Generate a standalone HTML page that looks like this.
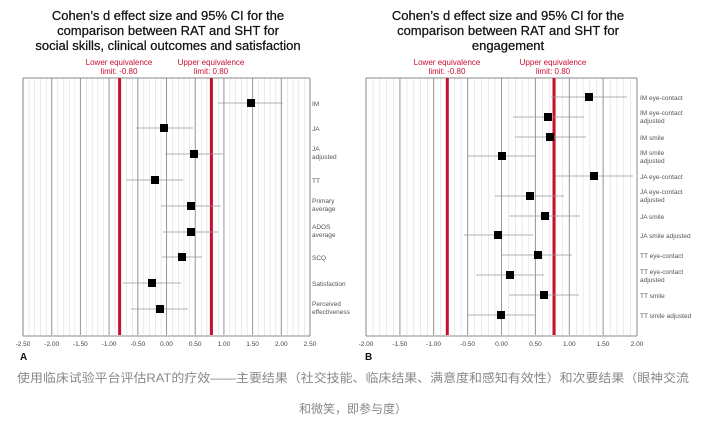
<!DOCTYPE html>
<html><head><meta charset="utf-8"><style>
body{margin:0;background:#fff;width:707px;height:421px;overflow:hidden}
svg{display:block}
.t{font-family:"Liberation Sans","DejaVu Sans",sans-serif}
</style></head><body>
<svg width="707" height="421" viewBox="0 0 707 421">
<defs>
<pattern id="pa" x="23" y="0" width="5.74" height="10" patternUnits="userSpaceOnUse"><line x1="0.25" y1="0" x2="0.25" y2="10" stroke="#d8d8d8" stroke-width="0.6"/></pattern>
<pattern id="pb" x="366" y="0" width="6.775" height="10" patternUnits="userSpaceOnUse"><line x1="0.25" y1="0" x2="0.25" y2="10" stroke="#d8d8d8" stroke-width="0.6"/></pattern>
</defs>
<g class="t" fill="#111" stroke="#111" stroke-width="0.25" font-size="13" text-anchor="middle">
<text x="168" y="20">Cohen’s d effect size and 95% CI for the</text>
<text x="168" y="35">comparison between RAT and SHT for</text>
<text x="168" y="50">social skills, clinical outcomes and satisfaction</text>
<text x="508" y="20">Cohen’s d effect size and 95% CI for the</text>
<text x="508" y="35">comparison between RAT and SHT for</text>
<text x="508" y="50">engagement</text>
</g>
<g class="t" fill="#c8102e" font-size="8" text-anchor="middle">
<text x="119" y="65">Lower equivalence</text><text x="119" y="74">limit: -0.80</text>
<text x="211" y="65">Upper equivalence</text><text x="211" y="74">limit: 0.80</text>
<text x="447" y="65">Lower equivalence</text><text x="447" y="74">limit: -0.80</text>
<text x="553" y="65">Upper equivalence</text><text x="553" y="74">limit: 0.80</text>
</g>
<!-- Panel A -->
<rect x="23" y="78" width="287" height="257" fill="url(#pa)"/>
<g stroke="#999" stroke-width="1">
<line x1="51.7" y1="78" x2="51.7" y2="335"/><line x1="80.4" y1="78" x2="80.4" y2="335"/><line x1="109.1" y1="78" x2="109.1" y2="335"/><line x1="137.8" y1="78" x2="137.8" y2="335"/><line x1="166.5" y1="78" x2="166.5" y2="335"/><line x1="195.2" y1="78" x2="195.2" y2="335"/><line x1="223.9" y1="78" x2="223.9" y2="335"/><line x1="252.6" y1="78" x2="252.6" y2="335"/><line x1="281.3" y1="78" x2="281.3" y2="335"/>
</g>
<g stroke="#888" stroke-width="1"><line x1="23" y1="78" x2="310" y2="78"/><line x1="23" y1="78" x2="23" y2="336"/><line x1="310" y1="78" x2="310" y2="336"/><line x1="23" y1="336" x2="310" y2="336"/></g>
<g stroke="#c8102e" stroke-width="3"><line x1="119.6" y1="78" x2="119.6" y2="335"/><line x1="211.4" y1="78" x2="211.4" y2="335"/></g>
<g stroke="#999" stroke-width="0.8">
<line x1="218" y1="103" x2="283" y2="103"/><line x1="136" y1="128" x2="193" y2="128"/><line x1="165" y1="154" x2="223" y2="154"/><line x1="126" y1="180" x2="183" y2="180"/><line x1="161" y1="206" x2="221" y2="206"/><line x1="163" y1="232" x2="218" y2="232"/><line x1="162" y1="257" x2="202" y2="257"/><line x1="123" y1="283" x2="181" y2="283"/><line x1="131" y1="309" x2="188" y2="309"/>
</g>
<g fill="#000">
<rect x="247" y="99" width="8" height="8"/><rect x="160" y="124" width="8" height="8"/><rect x="190" y="150" width="8" height="8"/><rect x="151" y="176" width="8" height="8"/><rect x="187" y="202" width="8" height="8"/><rect x="187" y="228" width="8" height="8"/><rect x="178" y="253" width="8" height="8"/><rect x="148" y="279" width="8" height="8"/><rect x="156" y="305" width="8" height="8"/>
</g>
<g class="t" fill="#555" font-size="6.5">
<text x="312" y="106">IM</text><text x="312" y="131">JA</text><text x="312" y="151">JA</text><text x="312" y="159">adjusted</text><text x="312" y="183">TT</text><text x="312" y="203">Primary</text><text x="312" y="211">average</text><text x="312" y="229">ADOS</text><text x="312" y="237">average</text><text x="312" y="260">SCQ</text><text x="312" y="286">Satisfaction</text><text x="312" y="306">Perceived</text><text x="312" y="314">effectiveness</text>
</g>
<g class="t" fill="#444" font-size="6.5" text-anchor="middle">
<text x="23" y="346">-2.50</text><text x="51.7" y="346">-2.00</text><text x="80.4" y="346">-1.50</text><text x="109.1" y="346">-1.00</text><text x="137.8" y="346">-0.50</text><text x="166.5" y="346">0.00</text><text x="195.2" y="346">0.50</text><text x="223.9" y="346">1.00</text><text x="252.6" y="346">1.50</text><text x="281.3" y="346">2.00</text><text x="310" y="346">2.50</text>
</g>
<text class="t" x="20" y="360" font-size="10" font-weight="bold" fill="#111">A</text>
<!-- Panel B -->
<rect x="366" y="78" width="271" height="257" fill="url(#pb)"/>
<g stroke="#999" stroke-width="1">
<line x1="399.9" y1="78" x2="399.9" y2="335"/><line x1="433.6" y1="78" x2="433.6" y2="335"/><line x1="467.6" y1="78" x2="467.6" y2="335"/><line x1="501.5" y1="78" x2="501.5" y2="335"/><line x1="535.4" y1="78" x2="535.4" y2="335"/><line x1="569.3" y1="78" x2="569.3" y2="335"/><line x1="603.1" y1="78" x2="603.1" y2="335"/>
</g>
<g stroke="#888" stroke-width="1"><line x1="366" y1="78" x2="637" y2="78"/><line x1="366" y1="78" x2="366" y2="336"/><line x1="637" y1="78" x2="637" y2="336"/><line x1="366" y1="336" x2="637" y2="336"/></g>
<g stroke="#c8102e" stroke-width="3"><line x1="447.3" y1="78" x2="447.3" y2="335"/><line x1="554" y1="78" x2="554" y2="335"/></g>
<g stroke="#999" stroke-width="0.8">
<line x1="551" y1="97" x2="627" y2="97"/><line x1="513" y1="117" x2="584" y2="117"/><line x1="515" y1="137" x2="586" y2="137"/><line x1="468" y1="156" x2="536" y2="156"/><line x1="556" y1="176" x2="633" y2="176"/><line x1="495" y1="196" x2="564" y2="196"/><line x1="509" y1="216" x2="580" y2="216"/><line x1="464" y1="235" x2="533" y2="235"/><line x1="502" y1="255" x2="572" y2="255"/><line x1="476" y1="275" x2="544" y2="275"/><line x1="509" y1="295" x2="579" y2="295"/><line x1="468" y1="315" x2="535" y2="315"/>
</g>
<g fill="#000">
<rect x="585" y="93" width="8" height="8"/><rect x="544" y="113" width="8" height="8"/><rect x="546" y="133" width="8" height="8"/><rect x="498" y="152" width="8" height="8"/><rect x="590" y="172" width="8" height="8"/><rect x="526" y="192" width="8" height="8"/><rect x="541" y="212" width="8" height="8"/><rect x="494" y="231" width="8" height="8"/><rect x="534" y="251" width="8" height="8"/><rect x="506" y="271" width="8" height="8"/><rect x="540" y="291" width="8" height="8"/><rect x="497" y="311" width="8" height="8"/>
</g>
<g class="t" fill="#555" font-size="6.5">
<text x="640" y="100">IM eye-contact</text><text x="640" y="115">IM eye-contact</text><text x="640" y="123">adjusted</text><text x="640" y="140">IM smile</text><text x="640" y="155">IM smile</text><text x="640" y="163">adjusted</text><text x="640" y="179">JA eye-contact</text><text x="640" y="194">JA eye-contact</text><text x="640" y="202">adjusted</text><text x="640" y="219">JA smile</text><text x="640" y="238">JA smile adjusted</text><text x="640" y="258">TT eye-contact</text><text x="640" y="274">TT eye-contact</text><text x="640" y="282">adjusted</text><text x="640" y="298">TT smile</text><text x="640" y="318">TT smile adjusted</text>
</g>
<g class="t" fill="#444" font-size="6.5" text-anchor="middle">
<text x="366" y="346">-2.00</text><text x="399.9" y="346">-1.50</text><text x="433.6" y="346">-1.00</text><text x="467.6" y="346">-0.50</text><text x="501.5" y="346">0.00</text><text x="535.4" y="346">0.50</text><text x="569.3" y="346">1.00</text><text x="603.1" y="346">1.50</text><text x="637" y="346">2.00</text>
</g>
<text class="t" x="365" y="360" font-size="10" font-weight="bold" fill="#111">B</text>
<g font-family="'Liberation Sans','Noto Sans CJK SC',sans-serif" fill="#888" font-size="12" text-anchor="middle">
<text x="353" y="382" textLength="672" lengthAdjust="spacingAndGlyphs">使用临床试验平台评估RAT的疗效——主要结果（社交技能、临床结果、满意度和感知有效性）和次要结果（眼神交流</text>
<text x="353" y="413">和微笑，即参与度）</text>
</g>
</svg>
</body></html>
